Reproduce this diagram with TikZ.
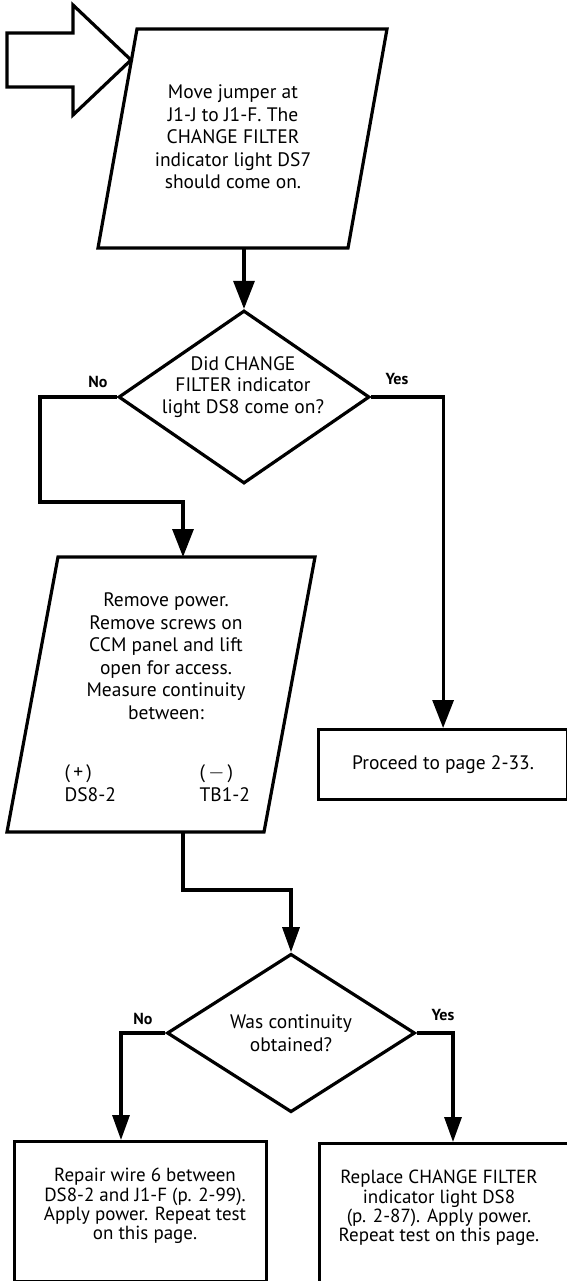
\documentclass[tikz,border=0pt]{standalone}
\usepackage{fontspec}
\setmainfont{PT Sans}
\usepackage{tikz}
\usetikzlibrary{shapes.geometric, arrows.meta}

\begin{document}
\begin{tikzpicture}[x=1pt, y=-1pt, line width=3.2pt, line join=miter,
  arr/.style={-{Triangle[length=28pt, width=21pt]}},
  arrsmall/.style={-{Triangle[length=25pt, width=17pt]}},
  txt/.style={align=center, inner sep=0pt, font=\fontsize{19.5}{22.5}\selectfont},
  txtsmall/.style={align=center, inner sep=0pt, font=\fontsize{19}{19.2}\selectfont},
  lbl/.style={inner sep=0pt, font=\fontsize{16}{18}\selectfont\bfseries},
  decision/.style={diamond, draw, inner sep=0pt}]
\useasboundingbox (0,0) rectangle (566,1281);
% entry arrow
\draw (7,33) -- (73,33) -- (73,5) -- (131,60) -- (73,115) -- (73,87) -- (7,87) -- cycle;
% first step
\draw (137,29) -- (387,29) -- (348,248) -- (98,248) -- cycle;
\node[txt] (step1) at (233,137) {Move jumper at\\J1-J to J1-F. The\\CHANGE FILTER\\indicator light DS7\\should come on.};
\coordinate (s1out) at (244,248);
\node[decision, minimum width=251pt, minimum height=173pt] (q1) at (244,397) {};
\node[txt, font=\fontsize{19.5}{21.5}\selectfont] (q1text) at (243,387) {Did CHANGE\\FILTER indicator\\light DS8 come on?};
\draw[arr] (s1out) -- (q1.north);
\node[lbl] (q1no) at (98,382) {No};
\node[lbl] (q1yes) at (397,379) {Yes};
% yes: proceed
\node[draw, minimum width=249pt, minimum height=70pt, anchor=north west, txt] (proceed) at (317,728) {Proceed to page 2-33.};
\draw[arr] (q1.east) -| (proceed.north);
% no: measure
\draw (58,557) -- (315,557) -- (264,832) -- (7,832) -- cycle;
\coordinate (s2in) at (183,557);
\coordinate (s2out) at (183,832);
\node[txt] (step2) at (166,656) {Remove power.\\Remove screws on\\CCM panel and lift\\open for access.\\Measure continuity\\between:};
\node[txt, align=left, anchor=west] (plus) at (63,783) {(\,+\,)\\DS8-2};
\node[txt, align=left, anchor=west] (minus) at (198,783) {(\,$-$\,)\\TB1-2};
\draw[arr] (q1.west) -- (40,397) -- (40,502) -| (s2in);
\node[decision, minimum width=248pt, minimum height=140pt, txt] (q2) at (291,1033) {Was continuity\\obtained?};
\draw[arrsmall] (s2out) -- (183,890) -| (q2.north);
\node[lbl] (q2no) at (143,1019) {No};
\node[lbl] (q2yes) at (443,1015) {Yes};
% results
\node[draw, minimum width=252pt, minimum height=140pt, anchor=north west] (repair) at (13,1140) {};
\node[txtsmall] (repairtext) at (145,1206) {Repair wire 6 between\\DS8-2 and J1-F (p. 2-99).\\Apply power. Repeat test\\on this page.};
\node[draw, minimum width=250pt, minimum height=141pt, anchor=north west] (replace) at (318,1142) {};
\node[txtsmall] (replacetext) at (439,1208) {Replace CHANGE FILTER\\indicator light DS8\\(p. 2-87). Apply power.\\Repeat test on this page.};
\coordinate (rin) at (121,1140);
\coordinate (pin) at (453,1142);
\draw[arrsmall] (q2.west) -| (rin);
\draw[arrsmall] (q2.east) -| (pin);
\end{tikzpicture}
\end{document}
